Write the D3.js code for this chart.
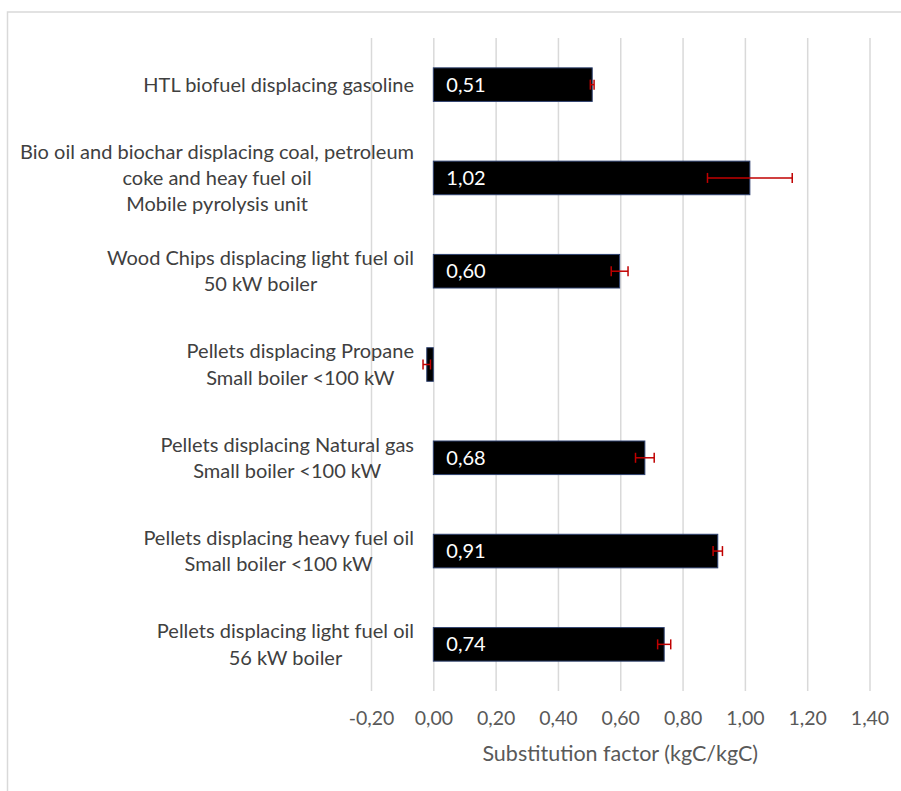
<!DOCTYPE html>
<html>
<head>
<meta charset="utf-8">
<script src="https://cdn.jsdelivr.net/npm/d3@7"></script>
<style>
  html, body { margin: 0; padding: 0; background: #fff; }
  svg { display: block; font-family: Lato, "Open Sans", sans-serif; }
</style>
</head>
<body>
<div id="chart"></div>
<script>
// Categories top to bottom, "|" splits label lines
const categories = [
    "HTL biofuel displacing gasoline",
    "Bio oil and biochar displacing coal, petroleum|coke and heay fuel oil|Mobile pyrolysis unit",
    "Wood Chips displacing light fuel oil|50 kW boiler",
    "Pellets displacing Propane|Small boiler <100 kW",
    "Pellets displacing Natural gas|Small boiler <100 kW",
    "Pellets displacing heavy fuel oil|Small boiler <100 kW",
    "Pellets displacing light fuel oil|56 kW boiler"
];
const values = [0.51, 1.016, 0.598, -0.021, 0.679, 0.913, 0.741];
const errors = [0.006, 0.136, 0.027, 0.012, 0.030, 0.015, 0.021];
const valueLabels = ["0,51", "1,02", "0,60", "", "0,68", "0,91", "0,74"];
const tickValues = [-0.2, 0, 0.2, 0.4, 0.6, 0.8, 1.0, 1.2, 1.4];
const tickLabels = ["-0,20", "0,00", "0,20", "0,40", "0,60", "0,80", "1,00", "1,20", "1,40"];
const axisTitle = "Substitution factor (kgC/kgC)";

const W = 901, H = 791;
const plot = { left: 371, right: 869.5, top: 38, bottom: 691 };
const labelRight = 414;

const svg = d3.select("#chart").append("svg")
    .attr("width", W)
    .attr("height", H);

// chart area border (runs off the right and bottom)
svg.append("rect")
    .attr("x", 7.5).attr("y", 12)
    .attr("width", W + 10).attr("height", H + 10)
    .attr("fill", "none")
    .attr("stroke", "#d9d9d9")
    .attr("stroke-width", 1.5);

const x = d3.scaleLinear().domain([-0.2, 1.4]).range([plot.left, plot.right]);
const y = d3.scaleBand()
    .domain(categories)
    .range([plot.top, plot.bottom])
    .paddingInner(0.64)
    .paddingOuter(0.32);

// vertical gridlines + tick labels via axis
const xAxis = d3.axisBottom(x)
    .tickValues(tickValues)
    .tickFormat((d, i) => tickLabels[i])
    .tickSize(-(plot.bottom - plot.top))
    .tickPadding(20);

const axisG = svg.append("g")
    .attr("transform", `translate(0,${plot.bottom})`)
    .call(xAxis);
axisG.select(".domain").remove();
axisG.selectAll(".tick line")
    .attr("stroke", "#d9d9d9")
    .attr("stroke-width", 1.5);
axisG.selectAll(".tick text")
    .attr("fill", "#595959")
    .style("font-size", "19.5px")
    .style("font-family", "Lato, sans-serif");

// bars
svg.append("g").selectAll("rect")
    .data(values)
    .join("rect")
    .attr("x", d => x(Math.min(0, d)))
    .attr("y", (d, i) => y(categories[i]))
    .attr("width", d => Math.abs(x(d) - x(0)))
    .attr("height", y.bandwidth())
    .attr("fill", "#000")
    .attr("stroke", "#2f4270")
    .attr("stroke-width", 1);

// error bars
const errG = svg.append("g")
    .attr("stroke", "#c00000")
    .attr("stroke-width", 1.5);
values.forEach((v, i) => {
    const cy = y(categories[i]) + y.bandwidth() / 2;
    const x0 = x(v - errors[i]), x1 = x(v + errors[i]);
    errG.append("line").attr("x1", x0).attr("x2", x1).attr("y1", cy).attr("y2", cy);
    errG.append("line").attr("x1", x0).attr("x2", x0).attr("y1", cy - 5).attr("y2", cy + 5);
    errG.append("line").attr("x1", x1).attr("x2", x1).attr("y1", cy - 5).attr("y2", cy + 5);
});

// value labels inside base
svg.append("g").selectAll("text")
    .data(valueLabels)
    .join("text")
    .attr("x", x(0) + 13)
    .attr("y", (d, i) => y(categories[i]) + y.bandwidth() / 2)
    .attr("dy", "0.35em")
    .attr("fill", "#fff")
    .style("font-size", "20px")
    .text(d => d);

// category labels, each block centred on itself and right-aligned
const lineH = 26.3;
categories.forEach((c, i) => {
    const lines = c.split("|");
    const cy = y(c) + y.bandwidth() / 2;
    const t = svg.append("text")
        .attr("fill", "#404040")
        .attr("text-anchor", "middle")
        .style("font-size", "20px");
    lines.forEach((ln, j) => {
        t.append("tspan")
            .attr("y", cy + (j - (lines.length - 1) / 2) * lineH)
            .attr("dy", "0.35em")
            .text(ln);
    });
    let maxW = 0;
    t.selectAll("tspan").each(function () {
        maxW = Math.max(maxW, this.getComputedTextLength());
    });
    t.selectAll("tspan").attr("x", labelRight - maxW / 2);
});

// axis title
svg.append("text")
    .attr("x", (plot.left + plot.right) / 2)
    .attr("y", 753)
    .attr("dy", "0.35em")
    .attr("text-anchor", "middle")
    .attr("fill", "#595959")
    .style("font-size", "21.5px")
    .text(axisTitle);
</script>
</body>
</html>
